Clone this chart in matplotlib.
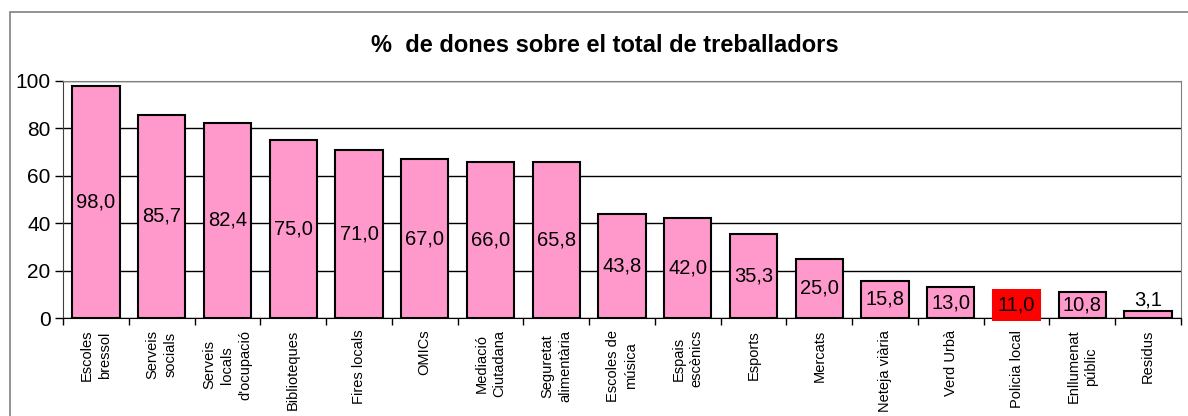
import numpy as np
import matplotlib
matplotlib.use('Agg')
import matplotlib.pyplot as plt
import matplotlib.patches as patches

plt.rcParams['font.family'] = ['Liberation Sans', 'DejaVu Sans']

# data
categories = ["Escoles\nbressol", "Serveis\nsocials", "Serveis\nlocals\nd'ocupació",
              "Biblioteques", "Fires locals", "OMICs", "Mediació\nCiutadana",
              "Seguretat\nalimentària", "Escoles de\nmúsica", "Espais\nescènics",
              "Esports", "Mercats", "Neteja viària", "Verd Urbà", "Policia local",
              "Enllumenat\npúblic", "Residus"]
values = [98.0, 85.7, 82.4, 75.0, 71.0, 67.0, 66.0, 65.8, 43.8, 42.0,
          35.3, 25.0, 15.8, 13.0, 11.0, 10.8, 3.1]
highlight = "Policia local"
y_ticks = [0, 20, 40, 60, 80, 100]

fig = plt.figure(figsize=(11.88, 4.16), dpi=100)
ax = fig.add_axes([63/1188, 98/416, (1181-63)/1188, (318-81)/416])

# outer frame of the chart
fig.patches.append(patches.Rectangle((10/1188, -0.1), 1.2, (416-12)/416 + 0.1,
                                     transform=fig.transFigure, fill=False,
                                     edgecolor='#808080', linewidth=1.2))

x = np.arange(len(values))
ax.set_axisbelow(True)
ax.yaxis.grid(True, color='black', linewidth=1)
ax.bar(x, values, width=0.72, color='#FF99CC', edgecolor='black', linewidth=1.5, zorder=3)

for xi, v, c in zip(x, values, categories):
    txt = ('%.1f' % v).replace('.', ',')
    if v < 5:
        ax.text(xi, v + 0.5, txt, ha='center', va='bottom', fontsize=14.5, zorder=4)
    elif c == highlight:
        ax.text(xi, v / 2, txt, ha='center', va='center', fontsize=14.5, zorder=4,
                bbox=dict(boxstyle='square,pad=0.3', facecolor='#FF0000', edgecolor='none'))
    else:
        ax.text(xi, v / 2, txt, ha='center', va='center', fontsize=14.5, zorder=4)

ax.set_xlim(-0.5, len(values) - 0.5)
ax.set_ylim(0, 100)
ax.set_yticks(y_ticks)
ax.tick_params(axis='y', labelsize=15, length=6, width=1, direction='out', pad=3)

ax.set_xticks(np.arange(-0.5, len(values), 1.0))
ax.set_xticklabels([])
ax.tick_params(axis='x', length=5, width=1, direction='out')
for xi, c in zip(x, categories):
    ax.text(xi, -5, c, rotation=90, ha='center', va='top', multialignment='center',
            fontsize=10.5, linespacing=1.35,
            family=['Liberation Sans Narrow', 'Liberation Sans'],
            transform=ax.transData, clip_on=False)

for s in ['top', 'right']:
    ax.spines[s].set_color('#808080')
ax.spines['left'].set_color('#404040')
ax.spines['bottom'].set_color('black')

fig.text(605/1188, 1 - 45/416, '%  de dones sobre el total de treballadors',
         ha='center', va='center', fontsize=17, fontweight='bold')

fig.savefig('out.png', dpi=100)
